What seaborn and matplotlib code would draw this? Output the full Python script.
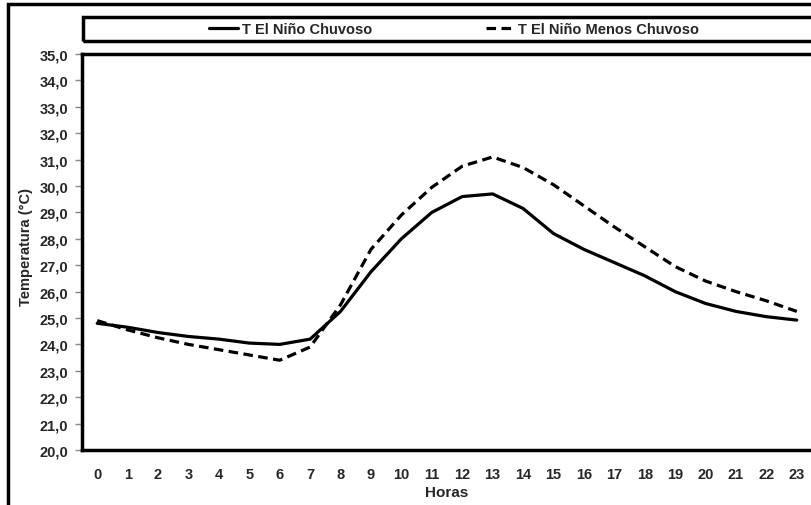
import pandas as pd
import matplotlib
matplotlib.use('Agg')
import matplotlib.pyplot as plt
from matplotlib.patches import Rectangle
from matplotlib.ticker import FixedLocator, FuncFormatter
import seaborn as sns

horas = list(range(24))
serie_a = 'T El Niño Chuvoso'
serie_b = 'T El Niño Menos Chuvoso'
t_chuvoso = [24.8, 24.65, 24.45, 24.3, 24.2, 24.05, 24.0, 24.2, 25.25, 26.75, 28.0, 29.0,
             29.6, 29.7, 29.15, 28.2, 27.6, 27.1, 26.6, 26.0, 25.55, 25.25, 25.05, 24.92]
t_menos = [24.9, 24.55, 24.25, 24.0, 23.8, 23.6, 23.4, 23.9, 25.5, 27.6, 28.9, 29.95,
           30.75, 31.1, 30.7, 30.05, 29.25, 28.45, 27.7, 26.95, 26.4, 26.0, 25.65, 25.25]
y_ticks = [20, 21, 22, 23, 24, 25, 26, 27, 28, 29, 30, 31, 32, 33, 34, 35]

df = pd.concat([
    pd.DataFrame({'Hora': horas, 'Temp': t_chuvoso, 'Serie': serie_a}),
    pd.DataFrame({'Hora': horas, 'Temp': t_menos, 'Serie': serie_b}),
], ignore_index=True)

sns.set_style('white')
plt.rcParams['font.family'] = ['Liberation Sans', 'DejaVu Sans']

W, H = 811, 506
fig = plt.figure(figsize=(W / 100, H / 100), dpi=100)
# plot area in pixels: left 82, top 55, bottom 451, right edge runs off the picture
ax = fig.add_axes([82 / W, (H - 451) / H, 730 / W, 396 / H])

sns.lineplot(data=df, x='Hora', y='Temp', style='Serie', color='black',
             dashes={serie_a: '', serie_b: (3, 1.7)}, linewidth=2.3, ax=ax)

ax.set_xlim(-0.5, 23.5)
ax.set_ylim(20, 35)
ax.set_xticks(horas)
ax.set_xticklabels([str(h) for h in horas], fontsize=10.5, fontweight='bold')
ax.xaxis.set_minor_locator(FixedLocator([h - 0.5 for h in horas] + [23.5]))
ax.tick_params(axis='x', which='major', length=0, pad=12.5)
ax.tick_params(axis='x', which='minor', length=5, width=1, color='#888888', direction='out')
ax.set_yticks(y_ticks)
ax.yaxis.set_major_formatter(FuncFormatter(lambda v, p: f'{v:.1f}'.replace('.', ',')))
ax.tick_params(axis='y', length=5, width=1, color='#888888', direction='out', pad=5,
               left=True, labelsize=10.5)
for lab in ax.get_yticklabels():
    lab.set_fontweight('bold')

ax.set_xlabel('Horas', fontsize=11, fontweight='bold')
ax.set_ylabel('Temperatura (°C)', fontsize=10.5, fontweight='bold')
ax.xaxis.set_label_coords(0.5, (451 - 486) / 396)
ax.yaxis.set_label_coords((33 - 82) / 730, (451 - 247) / 396)

for s in ax.spines.values():
    s.set_color('black')
    s.set_linewidth(2.5)

handles, labels = ax.get_legend_handles_labels()
ax.get_legend().remove()
leg = fig.legend(handles, labels, loc='center', bbox_to_anchor=(454 / W, 1 - 30 / H),
                 ncol=2, frameon=False, handlelength=2.0, handletextpad=0.25,
                 columnspacing=7.8, prop={'size': 10.5, 'weight': 'bold'})
for line in leg.get_lines():
    line.set_linewidth(2.3)

# legend box and outer chart frame
fig.add_artist(Rectangle((83 / W, 1 - 42 / H), 740 / W, 24 / H, transform=fig.transFigure,
                         fill=False, edgecolor='black', linewidth=2.5))
fig.add_artist(Rectangle((8 / W, -0.05), 1.1, 1 - 5 / H + 0.05, transform=fig.transFigure,
                         fill=False, edgecolor='black', linewidth=2.5))

fig.savefig('out.png', dpi=100)
